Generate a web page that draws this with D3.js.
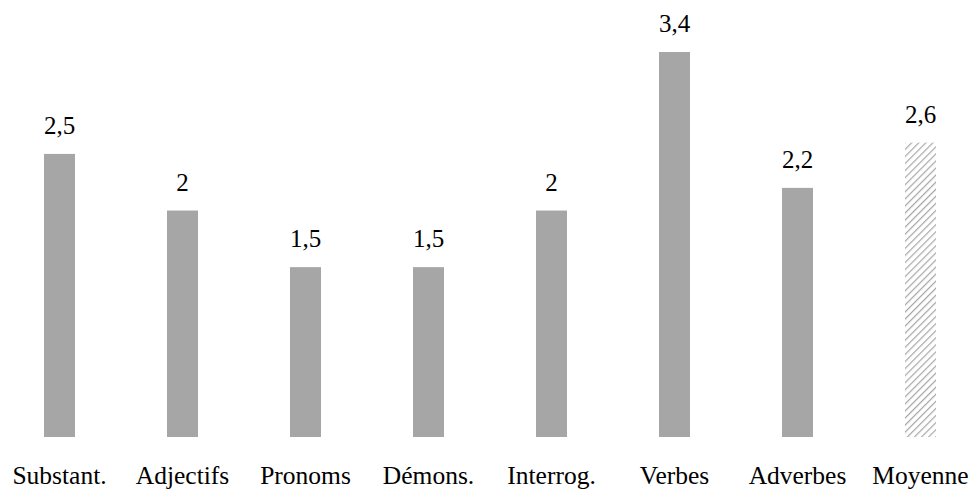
<!DOCTYPE html>
<html>
<head>
<meta charset="utf-8">
<script src="https://cdn.jsdelivr.net/npm/d3@7"></script>
<style>
  body { margin: 0; background: #fff; }
  svg text { font-family: "Liberation Serif", "Times New Roman", Times, serif; fill: #000; }
</style>
</head>
<body>
<main></main>
<script>
// Chart data
const categories = ["Substant.", "Adjectifs", "Pronoms", "Démons.", "Interrog.", "Verbes", "Adverbes", "Moyenne"];
const values = [2.5, 2, 1.5, 1.5, 2, 3.4, 2.2, 2.6];
const valueLabels = ["2,5", "2", "1,5", "1,5", "2", "3,4", "2,2", "2,6"];

const width = 972;
const height = 489;
const baseline = 437;
const serif = "'Liberation Serif', 'Times New Roman', Times, serif";

const svg = d3
  .select("main")
  .append("svg")
  .attr("width", width)
  .attr("height", height);

// Hatch pattern for the average bar
const pattern = svg
  .append("defs")
  .append("pattern")
  .attr("id", "hatch")
  .attr("patternUnits", "userSpaceOnUse")
  .attr("width", 5)
  .attr("height", 5)
  .attr("patternTransform", "rotate(45)");

pattern
  .append("rect")
  .attr("width", 5)
  .attr("height", 5)
  .attr("fill", "#fff");

pattern
  .append("line")
  .attr("x1", 0)
  .attr("y1", 0)
  .attr("x2", 0)
  .attr("y2", 5)
  .attr("stroke", "#a6a6a6")
  .attr("stroke-width", 2.4);

const xScale = d3
  .scaleBand()
  .domain(categories)
  .range([-2, 982])
  .paddingInner(0.748)
  .paddingOuter(0.374);

const yScale = d3.scaleLinear().domain([0, 3.4]).range([baseline, 52]);

// Bars
svg
  .selectAll(".bar")
  .data(values)
  .enter()
  .append("rect")
  .attr("class", "bar")
  .attr("x", (d, i) => xScale(categories[i]))
  .attr("y", (d) => yScale(d))
  .attr("width", xScale.bandwidth())
  .attr("height", (d) => baseline - yScale(d))
  .attr("fill", (d, i) => (categories[i] === "Moyenne" ? "url(#hatch)" : "#a6a6a6"));

// Value labels
svg
  .selectAll(".value")
  .data(values)
  .enter()
  .append("text")
  .attr("class", "value")
  .attr("x", (d, i) => xScale(categories[i]) + xScale.bandwidth() / 2)
  .attr("y", (d) => yScale(d) - 20)
  .attr("text-anchor", "middle")
  .style("font-family", serif)
  .style("font-size", "25px")
  .text((d, i) => valueLabels[i]);

// Category labels
const xAxis = d3.axisBottom(xScale).tickSize(0).tickPadding(0);

const axis = svg
  .append("g")
  .attr("transform", `translate(0, ${baseline})`)
  .call(xAxis);

axis.select(".domain").remove();
axis
  .selectAll("text")
  .attr("dy", null)
  .attr("y", 47)
  .style("font-size", "25.5px")
  .style("font-family", serif);
</script>
</body>
</html>
